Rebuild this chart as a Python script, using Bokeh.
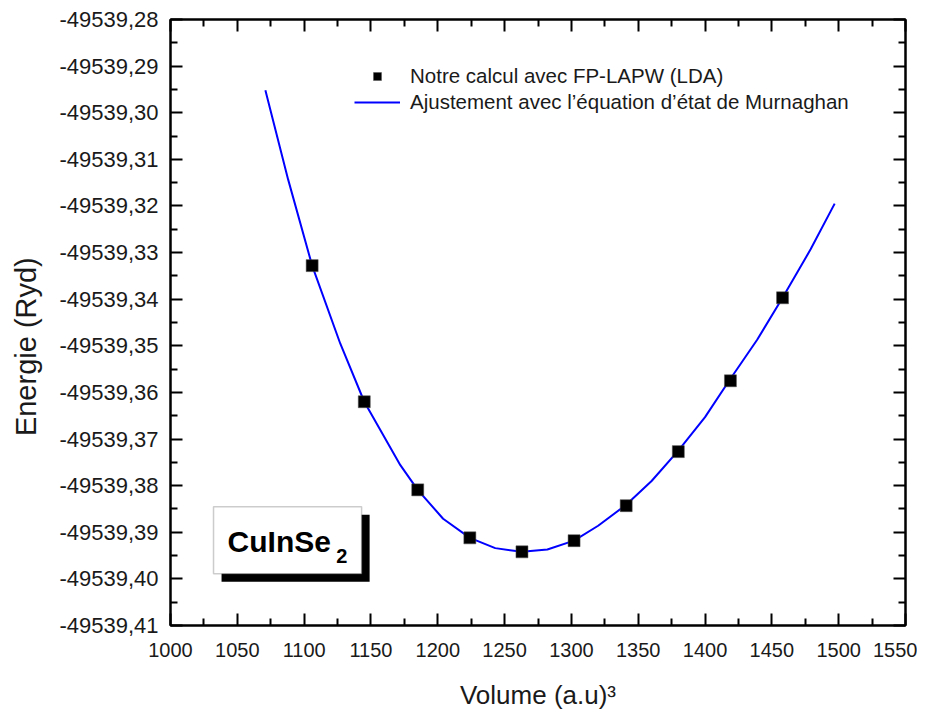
from bokeh.plotting import figure
from bokeh.models import (Range1d, LinearAxis, FixedTicker, CustomJSTickFormatter,
                          Legend, LegendItem, BoxAnnotation, Label)
from bokeh.embed import file_html
from bokeh.resources import INLINE

# ---- data ----
V_calc = [1106, 1145, 1185, 1224, 1263, 1302, 1341, 1380, 1419, 1458]
E_calc = [-49539.3328, -49539.3620, -49539.3809, -49539.3912, -49539.3942,
          -49539.3918, -49539.3843, -49539.3727, -49539.3575, -49539.3397]

V_fit = [1071, 1088, 1106, 1127, 1145, 1172, 1185, 1204, 1224, 1243, 1263, 1282,
         1302, 1320, 1341, 1360, 1380, 1400, 1418, 1439, 1458, 1479, 1497]
E_fit = [-49539.2952, -49539.3143, -49539.3328, -49539.3495, -49539.3620,
         -49539.3756, -49539.3809, -49539.3871, -49539.3912, -49539.3934,
         -49539.3942, -49539.3937, -49539.3918, -49539.3886, -49539.3841,
         -49539.3790, -49539.3725, -49539.3653, -49539.3575, -49539.3487,
         -49539.3397, -49539.3293, -49539.3195]

x_ticks = [1000, 1050, 1100, 1150, 1200, 1250, 1300, 1350, 1400, 1450, 1500, 1550]
x_tick_labels = ["1000", "1050", "1100", "1150", "1200", "1250", "1300", "1350",
                 "1400", "1450", "1500", "1550"]
y_ticks = [-49539.28, -49539.29, -49539.30, -49539.31, -49539.32, -49539.33,
           -49539.34, -49539.35, -49539.36, -49539.37, -49539.38, -49539.39,
           -49539.40, -49539.41]
y_tick_labels = ["-49539,28", "-49539,29", "-49539,30", "-49539,31", "-49539,32",
                 "-49539,33", "-49539,34", "-49539,35", "-49539,36", "-49539,37",
                 "-49539,38", "-49539,39", "-49539,40", "-49539,41"]

label_calc = "Notre calcul avec FP-LAPW (LDA)"
label_fit = "Ajustement avec l\u2019\u00e9quation d\u2019\u00e9tat de Murnaghan"
x_title = "Volume (a.u)\u00b3"
y_title = "Energie (Ryd)"
compound = "CuInSe"
compound_sub = "2"

# ---- figure ----
FONT = "Liberation Sans"
TXT = "#1a1a1a"

p = figure(width=917, height=714, output_backend="svg", toolbar_location=None,
           x_range=Range1d(1000, 1550), y_range=Range1d(-49539.41, -49539.28),
           min_border_left=170, min_border_right=12, min_border_top=19,
           min_border_bottom=89, x_axis_location=None, y_axis_location=None)
p.grid.visible = False
p.outline_line_color = "black"
p.outline_line_width = 2
p.background_fill_color = "white"
p.border_fill_color = "white"

x_minor = [(a + b) / 2 for a, b in zip(x_ticks[:-1], x_ticks[1:])]
y_minor = [(a + b) / 2 for a, b in zip(y_ticks[:-1], y_ticks[1:])]
xt = FixedTicker(ticks=x_ticks, minor_ticks=x_minor)
yt = FixedTicker(ticks=y_ticks, minor_ticks=y_minor)

lookup = """
for (let i = 0; i < tv.length; i++) {
  if (Math.abs(tv[i] - tick) < 1e-6) { return lbl[i]; }
}
return '';
"""
xf = CustomJSTickFormatter(args=dict(tv=x_ticks, lbl=x_tick_labels), code=lookup)
yf = CustomJSTickFormatter(args=dict(tv=y_ticks, lbl=y_tick_labels), code=lookup)
blank = CustomJSTickFormatter(code="return '';")


def style(ax, show):
    ax.axis_line_width = 2
    ax.axis_line_color = "black"
    ax.major_tick_in = 12
    ax.major_tick_out = 0
    ax.minor_tick_in = 7
    ax.minor_tick_out = 0
    ax.major_tick_line_width = 2
    ax.minor_tick_line_width = 2
    ax.major_tick_line_color = "black"
    ax.minor_tick_line_color = "black"
    if not show:
        ax.major_label_text_font_size = "0px"
        ax.major_label_standoff = 0


bottom = LinearAxis(ticker=xt, formatter=xf, axis_label=x_title)
style(bottom, True)
bottom.major_label_text_font = FONT
bottom.major_label_text_font_size = "20px"
bottom.major_label_text_color = TXT
bottom.major_label_standoff = 17
bottom.axis_label_text_font = FONT
bottom.axis_label_text_font_size = "26px"
bottom.axis_label_text_font_style = "normal"
bottom.axis_label_text_color = TXT
bottom.axis_label_standoff = 20
p.add_layout(bottom, "below")

# trailing no-break spaces shift the centred title a little downwards, as in the reference
left = LinearAxis(ticker=yt, formatter=yf, axis_label=y_title + "\u00a0" * 6)
style(left, True)
left.major_label_text_font = FONT
left.major_label_text_font_size = "22px"
left.major_label_text_color = TXT
left.major_label_standoff = 12
left.axis_label_text_font = FONT
left.axis_label_text_font_size = "29px"
left.axis_label_text_font_style = "normal"
left.axis_label_text_color = TXT
left.axis_label_standoff = 14
p.add_layout(left, "left")

top = LinearAxis(ticker=xt, formatter=blank)
style(top, False)
p.add_layout(top, "above")

right = LinearAxis(ticker=yt, formatter=blank)
style(right, False)
p.add_layout(right, "right")

# ---- glyphs ----
fit_r = p.line(V_fit, E_fit, line_color="#0000ff", line_width=2)
calc_r = p.scatter(V_calc, E_calc, marker="square", size=12, fill_color="black",
                   line_color="#555555", line_width=0.5)

legend = Legend(items=[LegendItem(label=label_calc, renderers=[calc_r]),
                       LegendItem(label=label_fit, renderers=[fit_r])],
                location=(184, 511), orientation="vertical",
                border_line_color=None, background_fill_alpha=0,
                padding=0, margin=0, spacing=2, glyph_width=46, glyph_height=20,
                label_height=20, label_standoff=10,
                label_text_font=FONT, label_text_font_size="20.5px",
                label_text_color=TXT)
p.add_layout(legend, "center")

# ---- compound label box ----
shadow = BoxAnnotation(left=1038.2, right=1149.0, top=-49539.38623,
                       bottom=-49539.40061, fill_color="black", fill_alpha=1,
                       line_color=None)
box = BoxAnnotation(left=1032.2, right=1143.0, top=-49539.38451,
                    bottom=-49539.39889, fill_color="white", fill_alpha=1,
                    line_color="#555555", line_width=1.5)
p.add_layout(shadow)
p.add_layout(box)
p.add_layout(Label(x=1042.7, y=-49539.39202, text=compound, text_font=FONT,
                   text_font_size="30px", text_font_style="bold", text_color="black",
                   text_baseline="alphabetic", text_align="left"))
p.add_layout(Label(x=1124.0, y=-49539.39502, text=compound_sub, text_font=FONT,
                   text_font_size="20px", text_font_style="bold", text_color="black",
                   text_baseline="alphabetic", text_align="left"))

open("out.html", "w").write(file_html(p, INLINE))
